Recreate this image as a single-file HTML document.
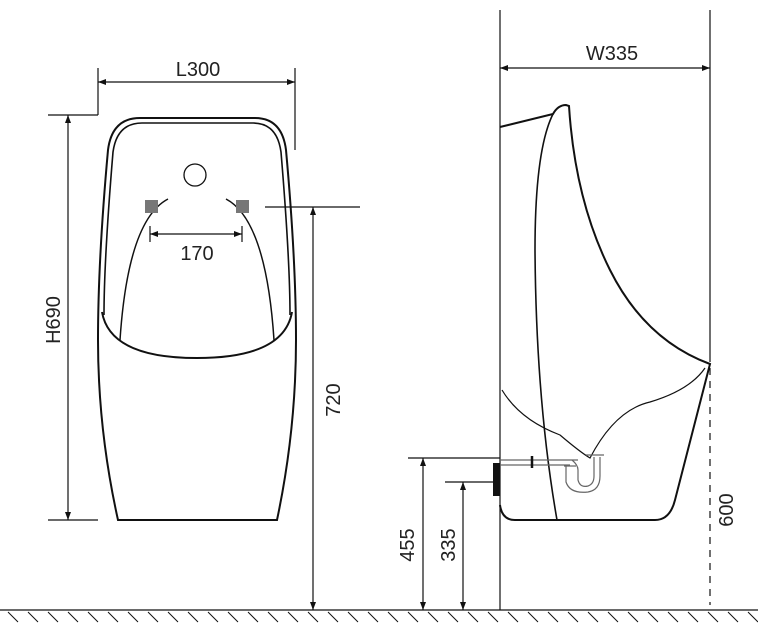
<!DOCTYPE html>
<html><head><style>
html,body{margin:0;padding:0;background:#fff;}
svg{display:block}
text{font-family:"Liberation Sans",sans-serif;fill:#222;font-size:20px}
</style></head><body>
<svg width="758" height="641" viewBox="0 0 758 641" xmlns="http://www.w3.org/2000/svg">
<g fill="none" stroke="#111" stroke-width="1.2">
<line x1="0" y1="610" x2="758" y2="610"/>
<g stroke-width="1">
<path d="M8 612l10 10 M28 612l10 10 M48 612l10 10 M68 612l10 10 M88 612l10 10 M108 612l10 10 M128 612l10 10 M148 612l10 10 M168 612l10 10 M188 612l10 10 M208 612l10 10 M228 612l10 10 M248 612l10 10 M268 612l10 10 M288 612l10 10 M308 612l10 10 M328 612l10 10 M348 612l10 10 M368 612l10 10 M388 612l10 10 M408 612l10 10 M428 612l10 10 M448 612l10 10 M468 612l10 10 M488 612l10 10 M508 612l10 10 M528 612l10 10 M548 612l10 10 M568 612l10 10 M588 612l10 10 M608 612l10 10 M628 612l10 10 M648 612l10 10 M668 612l10 10 M688 612l10 10 M708 612l10 10 M728 612l10 10 M748 612l10 10"/>
</g>
<line x1="98" y1="68" x2="98" y2="115"/>
<line x1="295" y1="68" x2="295" y2="150"/>
<line x1="98" y1="82" x2="295" y2="82"/>
<line x1="48" y1="115" x2="98" y2="115"/>
<line x1="48" y1="520" x2="98" y2="520"/>
<line x1="68" y1="115" x2="68" y2="520"/>
<line x1="265" y1="207" x2="360" y2="207"/>
<line x1="313" y1="207" x2="313" y2="610"/>
<line x1="150" y1="226" x2="150" y2="242"/>
<line x1="242" y1="226" x2="242" y2="242"/>
<line x1="150" y1="234" x2="242" y2="234"/>
</g>
<g fill="#111">
<path d="M98 82l8-3v6z M295 82l-8-3v6z M68 115l-3 8h6z M68 520l-3-8h6z M313 207l-3 8h6z M313 610l-3-8h6z M150 234l8-3v6z M242 234l-8-3v6z"/>
</g>
<g fill="none" stroke="#111" stroke-width="2">
<path d="M140 118 L255 118 Q282 118 286 150 Q296 260 296 340 Q296 430 277 520 L118 520 Q98 430 98 340 Q98 260 108 150 Q112 118 140 118 Z"/>
<path d="M142 123 L253 123 Q277 123 281 152 Q290 260 290 315 M104 315 Q104 260 113 152 Q117 123 142 123" stroke-width="1.6"/>
<path d="M102 312 Q110 358 197 358 Q284 358 292 312"/>
<path d="M168 199 Q128 220 120 340" stroke-width="1.5"/>
<path d="M226 199 Q266 220 274 340" stroke-width="1.5"/>
<circle cx="195" cy="175" r="11" stroke-width="1.3"/>
</g>
<rect x="145" y="200" width="13" height="13" fill="#777"/>
<rect x="236" y="200" width="13" height="13" fill="#777"/>
<g fill="none" stroke="#111" stroke-width="1.2">
<line x1="500" y1="10" x2="500" y2="610"/>
<line x1="710" y1="10" x2="710" y2="362"/>
<line x1="500" y1="68" x2="710" y2="68"/>
<line x1="408" y1="458" x2="500" y2="458"/>
<line x1="423" y1="458" x2="423" y2="610"/>
<line x1="445" y1="482" x2="500" y2="482"/>
<line x1="463" y1="482" x2="463" y2="610"/>
<line x1="710" y1="368" x2="710" y2="605" stroke-dasharray="7,6"/>
</g>
<g fill="#111">
<path d="M500 68l8-3v6z M710 68l-8-3v6z M423 458l-3 8h6z M423 610l-3-8h6z M463 482l-3 8h6z M463 610l-3-8h6z"/>
<rect x="493" y="463" width="7" height="33"/>
</g>
<g fill="none" stroke="#111" stroke-width="2">
<path d="M500 127 L553 114 Q558 105 566 105 L569 106 Q575 200 610 270 Q645 340 710 364 L675 500 Q670 520 655 520 L515 520 Q502 520 500 505"/>
<path d="M553 114 Q535 150 535 250 Q536 400 557 520" stroke-width="1.6"/>
<path d="M502 390 Q520 420 560 435 Q580 452 590 458 Q615 410 650 402 Q690 390 705 368" stroke-width="1.2"/>
</g>
<g fill="none" stroke="#666" stroke-width="1.2">
<path d="M500 460 L578 460 M500 465 L570 465"/>
<path d="M572 460 Q578 465 578 470 L578 480 Q580 488 588 486 Q594 484 594 476 L594 457"/>
<path d="M566 466 L566 482 Q570 494 588 492 Q600 490 600 476 L600 457"/>
<path d="M586 455 L604 455 M564 466 L576 466"/>
<path d="M532 456 L532 468" stroke="#111" stroke-width="2.5"/>
</g>
<text x="198" y="76" text-anchor="middle">L300</text>
<text x="197" y="260" text-anchor="middle">170</text>
<text x="612" y="60" text-anchor="middle">W335</text>
<text transform="translate(60,320) rotate(-90)" text-anchor="middle">H690</text>
<text transform="translate(340,400) rotate(-90)" text-anchor="middle">720</text>
<text transform="translate(414,545) rotate(-90)" text-anchor="middle">455</text>
<text transform="translate(455,545) rotate(-90)" text-anchor="middle">335</text>
<text transform="translate(733,510) rotate(-90)" text-anchor="middle">600</text>
</svg>
</body></html>
